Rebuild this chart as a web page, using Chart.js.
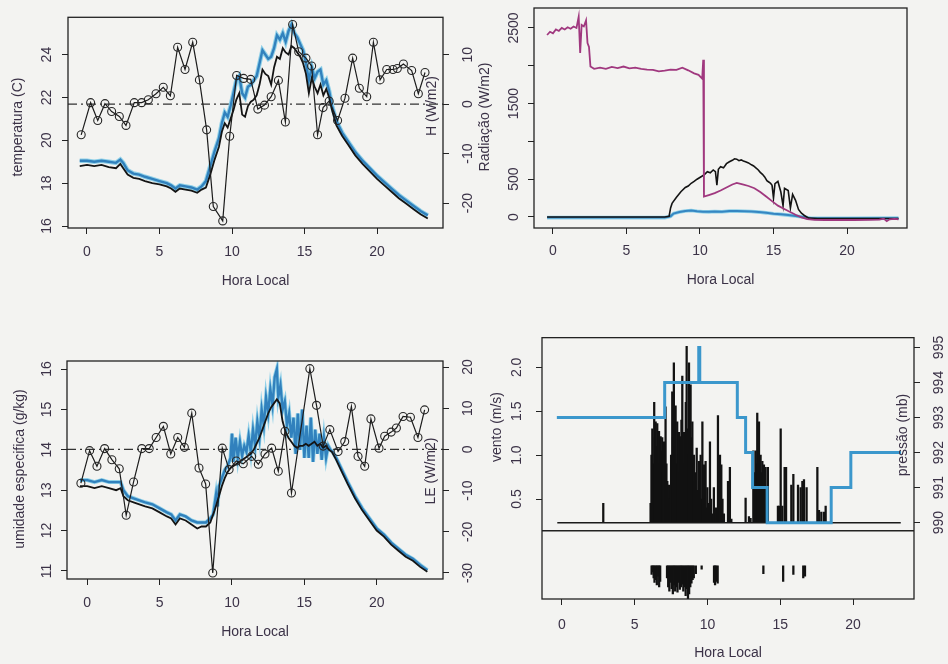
<!DOCTYPE html>
<html>
<head>
<meta charset="utf-8">
<script src="https://cdn.jsdelivr.net/npm/chart.js@4.4.1/dist/chart.umd.min.js"></script>
<style>
  html, body { margin: 0; padding: 0; background: #f3f3f1; }
  #folha { position: relative; width: 948px; height: 664px; overflow: hidden; }
  canvas { position: absolute; }
</style>
</head>
<body>
<div id="folha">
  <canvas id="temp" width="474" height="300" style="left:0;top:0"></canvas>
  <canvas id="rad" width="474" height="300" style="left:474px;top:0"></canvas>
  <canvas id="umid" width="474" height="334" style="left:0;top:330px"></canvas>
  <canvas id="vento" width="474" height="344" style="left:474px;top:320px"></canvas>
</div>
<script>
// ---- dados ----
const horasTicks = [0, 5, 10, 15, 20];

// painel 1: temperatura (C) e H (W/m2)
const tempHora = [-0.5, 0, 0.5, 1, 1.5, 2, 2.3, 2.5, 2.8, 3.2, 3.6, 4, 4.5, 5, 5.5, 5.8, 6.1, 6.4, 6.8, 7.2, 7.6, 7.9,
  8.2, 8.5, 8.8, 9.1, 9.3, 9.5, 9.7, 9.9, 10.1, 10.3, 10.5, 10.7, 10.9, 11.1, 11.3, 11.5, 11.7, 11.9,
  12.1, 12.3, 12.5, 12.7, 12.9, 13.1, 13.3, 13.5, 13.7, 13.9, 14.1, 14.3, 14.5, 14.7, 14.9, 15.1, 15.3, 15.5, 15.7, 15.9,
  16.1, 16.3, 16.5, 16.7, 16.9, 17.2, 17.6, 18, 18.5, 19, 19.5, 20, 20.5, 21, 21.5, 22, 22.5, 23, 23.5];
const tempPreto = [18.8, 18.85, 18.8, 18.85, 18.75, 18.7, 18.9, 18.7, 18.4, 18.25, 18.2, 18.1, 18.0, 17.95, 17.85, 17.75,
  17.6, 17.75, 17.7, 17.65, 17.55, 17.7, 17.8, 18.4, 19.1, 19.7, 20.4, 20.8, 20.6, 21.0, 21.4, 21.9, 22.2, 21.2, 21.1,
  21.6, 21.8, 21.9, 22.1, 22.6, 23.3, 23.1, 23.0, 22.6, 23.4, 23.9, 23.8, 24.3, 24.1, 24.0, 24.4, 24.3, 24.1, 23.9,
  23.6, 23.1, 22.2, 22.9, 22.5, 22.2, 22.6, 22.1, 22.4, 22.0, 21.4, 20.7, 20.2, 19.8, 19.3, 18.9, 18.55, 18.2, 17.9,
  17.6, 17.3, 17.05, 16.8, 16.55, 16.35];
const tempAzul = [19.05, 19.05, 19.0, 19.05, 19.0, 18.95, 19.1, 18.95, 18.6, 18.45, 18.4, 18.3, 18.2, 18.1, 18.0, 17.9,
  17.75, 17.9, 17.85, 17.8, 17.7, 17.85, 18.1, 18.8, 19.5, 20.1, 20.8, 21.3, 21.1, 21.6, 22.2, 22.8, 23.0, 22.2, 22.0,
  22.5, 22.6, 22.8, 23.0, 23.6, 24.2, 24.0, 23.8, 23.9, 24.3, 24.9, 24.7, 25.0, 24.6, 25.1, 25.4, 25.0, 24.8, 24.5,
  24.2, 23.6, 22.8, 23.4, 22.9, 23.2, 23.3, 22.6, 22.8, 22.3, 21.6, 20.9, 20.35, 19.95, 19.45, 19.05, 18.7, 18.35,
  18.05, 17.75, 17.45, 17.2, 16.95, 16.7, 16.5];
const hHora = [-0.4, 0.25, 0.74, 1.24, 1.7, 2.23, 2.69, 3.26, 3.77, 4.23, 4.76, 5.26, 5.75, 6.25, 6.76, 7.29, 7.75, 8.25,
  8.71, 9.36, 9.84, 10.32, 10.8, 11.29, 11.78, 12.24, 12.7, 13.2, 13.68, 14.18, 14.6, 15.1, 15.49, 15.9, 16.28, 16.7,
  17.28, 17.79, 18.32, 18.78, 19.29, 19.75, 20.21, 20.67, 21.1, 21.4, 21.82, 22.39, 22.85, 23.31];
const hFluxo = [-6.2, 0.3, -3.3, 0.1, -1.5, -2.5, -4.3, 0.3, 0.3, 0.9, 2.1, 3.4, 1.7, 11.5, 7.0, 12.5, 4.9, -5.2,
  -20.7, -23.6, -6.5, 5.8, 5.2, 5.0, -1.0, -0.2, 1.5, 4.8, -3.6, 16.1, 10.6, 9.3, 7.7, -6.2, -0.7, 0.6,
  -3.3, 1.2, 9.3, 3.2, 1.5, 12.5, 4.9, 7.0, 7.0, 7.2, 8.1, 6.8, 2.1, 6.4];
const tempTicks = [16, 18, 20, 22, 24];
const hTicks = [-20, -10, 0, 10];

// painel 2: radiacao (W/m2)
const radHora = [-0.4, -0.2, 0, 0.2, 0.4, 0.6, 0.8, 1.0, 1.2, 1.4, 1.6, 1.75, 1.85, 1.95, 2.1, 2.25, 2.35, 2.45, 2.55,
  2.8, 3.2, 3.6, 4.0, 4.4, 4.8, 5.2, 5.6, 6.0, 6.4, 6.8, 7.2, 7.6, 8.0, 8.4, 8.8, 9.2, 9.6, 9.9, 10.15, 10.22, 10.27,
  10.6, 11.0, 11.4, 11.8, 12.2, 12.5, 12.9, 13.3, 13.7, 14.1, 14.5, 14.9, 15.3, 15.7, 16.1, 16.5, 16.9, 17.3, 17.8,
  18.5, 19.5, 20.5, 21.5, 22.2, 22.5, 22.7, 22.9, 23.2, 23.5];
const radRosa = [2407, 2450, 2430, 2480, 2460, 2500, 2480, 2510, 2490, 2520, 2500, 2650, 2170, 2540, 2520, 2600, 2300,
  2250, 1990, 1960, 1975, 1960, 1985, 1970, 1990, 1965, 1975, 1960, 1950, 1945, 1925, 1935, 1950, 1945, 1975, 1940,
  1900, 1880, 1830, 2080, 270, 290, 315, 350, 390, 430, 450, 430, 410, 380, 330, 270, 210, 150, 110, 70, 30, -5, -28,
  -38, -40, -40, -40, -38, -35, -22, -55, -30, -26, -30];
const radPretoHora = [-0.4, 7.6, 7.9, 8.0, 8.1, 8.4, 8.7, 9.0, 9.2, 9.4, 9.6, 9.8, 10.1, 10.3, 10.5, 10.7, 10.9, 11.05,
  11.15, 11.25, 11.4, 11.6, 11.8, 12.0, 12.2, 12.35, 12.5, 12.65, 12.8, 12.95, 13.1, 13.3, 13.5, 13.65, 13.8, 13.95,
  14.1, 14.25, 14.4, 14.55, 14.7, 14.8, 14.9, 15.0, 15.1, 15.3, 15.5, 15.65, 15.75, 16.0, 16.15, 16.3, 16.5, 16.7,
  16.9, 17.1, 17.4, 18, 20, 23.5];
const radPreto = [0, 0, 10, 120, 180, 260, 335, 390, 410, 446, 470, 500, 535, 560, 600, 585, 622, 600,
  420, 630, 665, 650, 705, 730, 750, 770, 765, 745, 755, 740, 730, 715, 690, 675, 650, 625,
  590, 565, 530, 480, 460, 445, 420, 250, 440, 470, 330, 150, 380, 350, 120, 300, 220, 100,
  50, 20, -15, -20, -20, -20];
const radAzulHora = [-0.4, 7.6, 8.0, 8.2, 8.6, 9.0, 9.4, 9.8, 10.2, 10.6, 11.0, 11.5, 12.0, 12.5, 13.0, 13.5, 14.0,
  14.5, 15.0, 15.5, 16.0, 16.5, 17.0, 17.5, 18, 20, 23.5];
const radAzul = [-8, -8, 10, 45, 65, 80, 85, 75, 70, 68, 72, 70, 78, 80, 76, 72, 65, 55, 42, 35, 25, 12, 0, -15, -18,
  -18, -15];
const radTicks = [0, 500, 1000, 1500, 2000, 2500];
const radRotulos = ['0', '500', '', '1500', '', '2500'];

// painel 3: umidade especifica (g/kg) e LE (W/m2)
const umidHora = tempHora;
const umidPreto = [13.1, 13.1, 13.05, 13.1, 13.05, 13.0, 13.05, 12.85, 12.75, 12.7, 12.65, 12.6, 12.55, 12.45, 12.35,
  12.3, 12.15, 12.3, 12.25, 12.15, 12.05, 12.1, 12.1, 12.2, 12.5, 12.85, 13.1, 13.3, 13.45, 13.55, 13.6, 13.65, 13.7,
  13.75, 13.8, 13.85, 13.9, 14.0, 14.15, 14.3, 14.5, 14.7, 14.9, 15.05, 15.15, 15.25, 15.15, 14.7, 14.45, 14.3, 14.2,
  14.1, 14.05, 14.1, 14.1, 14.15, 14.1, 14.15, 14.2, 14.1, 14.15, 14.05, 14.1, 14.0, 13.95, 13.75, 13.45, 13.15, 12.8,
  12.5, 12.25, 12.0, 11.85, 11.65, 11.5, 11.35, 11.25, 11.1, 10.98];
const umidAzulHora = [-0.5, 0, 0.5, 1, 1.5, 2, 2.3, 2.5, 2.8, 3.2, 3.6, 4, 4.5, 5, 5.5, 5.8, 6.1, 6.4, 6.8, 7.2,
  7.6, 7.9, 8.2, 8.5, 8.7, 8.9, 9.0, 9.1, 9.3, 9.5, 9.7, 9.9, 10.0, 10.1, 10.25, 10.4, 10.55, 10.7, 10.85, 11.0,
  11.15, 11.3, 11.45, 11.6, 11.75, 11.9, 12.05, 12.2, 12.35, 12.5, 12.65, 12.8, 12.95, 13.1, 13.2, 13.35, 13.5, 13.65,
  13.8, 13.95, 14.1, 14.25, 14.4, 14.55, 14.7, 14.85, 15.0, 15.15, 15.3, 15.45, 15.6, 15.75, 15.9, 16.05, 16.2, 16.35,
  16.5, 16.65, 16.8, 16.95, 17.2, 17.6, 18, 18.5, 19, 19.5, 20, 20.5, 21, 21.5, 22, 22.5, 23, 23.5];
const umidAzul = [13.25, 13.25, 13.2, 13.25, 13.2, 13.2, 13.2, 13.0, 12.85, 12.8, 12.75, 12.7, 12.65, 12.55, 12.45,
  12.4, 12.25, 12.4, 12.35, 12.25, 12.2, 12.2, 12.2, 12.3, 12.4, 12.9, 12.6, 13.1, 13.3, 13.5, 13.6, 13.8, 14.4, 13.7,
  14.3, 13.8, 14.2, 13.85, 14.1, 13.95, 14.35, 13.95, 14.5, 14.1, 14.7, 14.3, 15.0, 14.6, 15.3, 14.9, 15.5, 15.1, 15.8,
  16.0, 15.3, 15.6, 15.0, 15.2, 14.6, 14.9, 14.3, 14.8, 13.9, 14.9, 14.0, 15.0, 13.8, 14.6, 13.8, 14.8, 13.7, 14.5,
  13.9, 14.4, 13.75, 14.3, 13.8, 14.1, 14.0, 13.95, 13.8, 13.5, 13.2, 12.85, 12.55, 12.3, 12.05, 11.9, 11.7, 11.55,
  11.4, 11.3, 11.15, 11.02];
const leHora = [-0.44, 0.16, 0.67, 1.2, 1.7, 2.21, 2.69, 3.2, 3.77, 4.28, 4.76, 5.26, 5.77, 6.25, 6.71, 7.22, 7.72,
  8.18, 8.67, 9.33, 9.8, 10.3, 10.78, 11.36, 11.82, 12.28, 12.74, 13.2, 13.66, 14.11, 15.38, 15.84, 16.3, 16.76,
  17.33, 17.79, 18.25, 18.71, 19.17, 19.6, 20.16, 20.55, 21.0, 21.36, 21.82, 22.33, 22.85, 23.31];
const leFluxo = [-8.2, -0.3, -4.1, 0.2, -2.5, -4.7, -16.0, -7.9, 0.2, 0.2, 2.9, 5.6, -1.1, 2.9, 0.5, 8.8, -4.5, -8.4,
  -30.0, 0.3, -4.9, -2.8, -3.5, -1.7, -3.6, -1.1, 0.3, -5.3, 4.4, -10.6, 19.6, 10.7, 0.8, 4.8, -0.5, 1.9, 10.4, -1.7,
  -4.1, 7.4, 0.3, 3.2, 4.2, 5.2, 8.0, 7.8, 2.9, 9.6];
const umidTicks = [11, 12, 13, 14, 15, 16];
const leTicks = [-30, -20, -10, 0, 10, 20];

// painel 4: vento (m/s) e pressao (mb)
const ventoHora = [2.84, 6.09, 6.15, 6.21, 6.27, 6.34, 6.39, 6.44, 6.5, 6.55, 6.61, 6.67, 6.72, 6.78, 6.84, 6.89,
  6.95, 7.01, 7.06, 7.12, 7.18, 7.24, 7.3, 7.35, 7.42, 7.5, 7.58, 7.63, 7.69, 7.75, 7.81, 7.86, 7.92, 7.98, 8.04, 8.1,
  8.15, 8.21, 8.27, 8.33, 8.38, 8.45, 8.51, 8.57, 8.63, 8.68, 8.73, 8.79, 8.84, 8.9, 8.96, 9.02, 9.07, 9.13, 9.2,
  9.26, 9.33, 9.41, 9.47, 9.53, 9.59, 9.65, 9.7, 9.76, 9.81, 9.87, 9.93, 9.99, 10.08, 10.17, 10.25, 10.33, 10.44,
  10.58, 10.72, 10.79, 10.86, 10.95, 11.03, 11.13, 11.41, 11.54, 11.64, 12.62, 12.85, 12.96, 13.15, 13.22, 13.31,
  13.37, 13.42, 13.48, 13.54, 13.6, 13.65, 13.71, 13.77, 13.82, 13.88, 13.94, 13.99, 14.15, 14.84, 14.93, 15.03,
  15.14, 15.3, 15.4, 15.76, 15.9, 16.22, 16.4, 16.52, 16.63, 16.81, 17.55, 17.66, 17.82, 18.0, 18.12];
const ventoVel = [0.45, 0.45, 1.0, 1.3, 0.9, 1.6, 1.2, 1.38, 1.1, 1.36, 1.0, 1.27, 0.9, 1.21, 1.05, 1.2, 0.8, 1.15,
  0.6, 1.55, 0.9, 0.7, 0.45, 0.66, 0.5, 1.0, 1.72, 1.2, 2.05, 1.1, 1.56, 0.9, 1.38, 1.0, 1.26, 0.8, 1.21, 1.4, 1.9,
  1.1, 1.26, 0.9, 1.6, 2.24, 1.3, 1.0, 2.05, 1.4, 1.8, 1.2, 1.38, 0.9, 1.0, 0.7, 0.8, 1.08, 0.6, 0.93, 0.7, 1.0, 0.5,
  1.38, 0.6, 0.89, 0.5, 0.93, 0.4, 0.63, 0.45, 1.15, 0.5, 0.33, 0.63, 0.4, 1.45, 0.8, 1.0, 0.89, 0.5, 0.33, 0.7, 0.86,
  0.27, 0.51, 0.3, 0.28, 1.05, 0.8, 1.05, 0.9, 1.48, 1.0, 1.38, 0.9, 1.0, 0.8, 0.93, 0.7, 0.89, 0.6, 0.86, 0.86, 0.42,
  0.42, 1.3, 0.42, 0.86, 0.86, 0.66, 0.78, 0.66, 0.63, 0.7, 0.72, 0.63, 0.86, 0.37, 0.35, 0.35, 0.42];
const ventoBase = 0.23;
const baseHoras = [-0.32, 23.28];
const divisoria = 0.139;
const dirHora = [6.16, 6.22, 6.3, 6.36, 6.45, 6.52, 6.6, 6.68, 6.75, 7.22, 7.3, 7.38, 7.46, 7.54, 7.62, 7.7, 7.78,
  7.86, 7.94, 8.02, 8.1, 8.18, 8.26, 8.34, 8.42, 8.5, 8.58, 8.66, 8.74, 8.82, 8.9, 8.98, 9.06, 9.2, 9.6, 10.45,
  10.52, 10.6, 10.7, 13.84, 15.2, 15.9, 16.58, 16.7];
const dirFim = [-0.36, -0.33, -0.4, -0.45, -0.42, -0.48, -0.38, -0.5, -0.44, -0.4, -0.5, -0.55, -0.45, -0.52, -0.58,
  -0.48, -0.55, -0.5, -0.56, -0.45, -0.53, -0.5, -0.47, -0.55, -0.5, -0.6, -0.52, -0.65, -0.58, -0.5, -0.46, -0.42,
  -0.4, -0.35, -0.3, -0.45, -0.48, -0.44, -0.46, -0.35, -0.44, -0.36, -0.4, -0.38];
const dirTopo = -0.26;
const pressaoHora = [-0.35, 7.06, 9.4, 9.47, 12.05, 12.62, 13.1, 14.1, 18.5, 19.85, 23.3];
const pressao = [993, 994, 995, 994, 993, 992, 991, 990, 991, 992, 992];
const ventoTicks = [0.5, 1.0, 1.5, 2.0];
const ventoRotulos = ['0.5', '1.0', '1.5', '2.0'];
const pressaoTicks = [990, 991, 992, 993, 994, 995];

// ---- estilo e ajudantes ----
const fonte = "'Liberation Sans', Arial, Helvetica, sans-serif";
const corTexto = '#3b3247';
const corEixo = '#222222';

const pares = (xs, ys) => xs.map((x, i) => ({ x: x, y: ys[i] }));

function eixoY(pos, min, max, valores, largura, pad, rotulos) {
  return {
    type: 'linear', position: pos, min: min, max: max,
    afterBuildTicks: s => { s.ticks = valores.map(v => ({ value: v })); },
    afterFit: s => { s.width = largura; },
    grid: { display: true, drawOnChartArea: false, tickLength: 6, color: corEixo, tickColor: corEixo, lineWidth: 1 },
    border: { display: false },
    ticks: {
      minRotation: 90, maxRotation: 90, crossAlign: 'center', padding: pad, autoSkip: false,
      color: corTexto, font: { family: fonte, size: 14 },
      callback: (v, i) => rotulos ? rotulos[i] : String(v)
    }
  };
}

function eixoX(min, max, altura, pad, padTitulo) {
  return {
    type: 'linear', min: min, max: max, offset: false,
    afterBuildTicks: s => { s.ticks = horasTicks.map(v => ({ value: v })); },
    afterFit: s => { s.height = altura; },
    grid: { display: true, drawOnChartArea: false, tickLength: 6, color: corEixo, tickColor: corEixo, offset: false },
    border: { display: false },
    ticks: { padding: pad, autoSkip: false, maxRotation: 0, color: corTexto, font: { family: fonte, size: 14 } },
    title: { display: true, text: 'Hora Local', color: corTexto, font: { family: fonte, size: 14 },
      padding: { top: 0, bottom: padTitulo } }
  };
}

function linha(xs, ys, cor, largura, eixo, extra) {
  return Object.assign({
    type: 'line', data: pares(xs, ys), borderColor: cor, borderWidth: largura,
    pointRadius: 0, yAxisID: eixo || 'y', fill: false, tension: 0
  }, extra || {});
}

function pontos(xs, ys, eixo) {
  return linha(xs, ys, '#1c1c1c', 1.2, eixo, {
    pointRadius: 4, pointStyle: 'circle', pointBorderColor: '#262626',
    pointBackgroundColor: 'rgba(0,0,0,0)', pointBorderWidth: 1.1
  });
}

const moldura = {
  id: 'moldura',
  afterDatasetsDraw(chart) {
    const { ctx, chartArea: a } = chart;
    ctx.save();
    ctx.strokeStyle = corEixo;
    ctx.lineWidth = 1.3;
    ctx.strokeRect(a.left, a.top, a.right - a.left, a.bottom - a.top);
    ctx.restore();
  }
};

function titulos(lista) {
  return {
    id: 'titulos',
    afterDraw(chart) {
      const ctx = chart.ctx;
      lista.forEach(t => {
        ctx.save();
        ctx.translate(t.x, t.y);
        ctx.rotate(-Math.PI / 2);
        ctx.font = '14px ' + fonte;
        ctx.fillStyle = corTexto;
        ctx.textAlign = 'center';
        ctx.textBaseline = 'middle';
        ctx.fillText(t.texto, 0, 0);
        ctx.restore();
      });
    }
  };
}

function opcoes(escalas, padding) {
  return {
    responsive: false, maintainAspectRatio: false, animation: false, events: [],
    layout: { padding: padding },
    plugins: { legend: { display: false }, tooltip: { enabled: false } },
    scales: escalas
  };
}

// ---- painel 1 ----
const x1 = [-1.31, 24.55];
new Chart(document.getElementById('temp'), {
  type: 'line',
  data: {
    datasets: [
      pontos(hHora, hFluxo, 'y2'),
      linha(tempHora, tempPreto, '#141414', 1.8),
      linha(tempHora, tempAzul, '#3181bd', 2.4),
      linha(tempHora, tempAzul, '#8fd0e8', 4.5),
      linha(x1, [0, 0], '#333333', 1.3, 'y2', { borderDash: [9, 4, 2, 4] })
    ]
  },
  options: opcoes({
    x: eixoX(x1[0], x1[1], 72, 10, 10.6),
    y: eixoY('left', 15.91, 25.74, tempTicks, 68, 7.2),
    y2: eixoY('right', -25.03, 17.55, hTicks, 31, 8.9)
  }, { top: 8, left: 0, right: 0, bottom: 0 }),
  plugins: [moldura, titulos([{ texto: 'temperatura (C)', x: 18, y: 127 }, { texto: 'H (W/m2)', x: 432, y: 106 }])]
});

// ---- painel 2 ----
const x2 = [-1.29, 24.08];
new Chart(document.getElementById('rad'), {
  type: 'line',
  data: {
    datasets: [
      linha(radHora, radRosa, '#a0387f', 1.8),
      linha(radPretoHora, radPreto, '#141414', 1.6),
      linha(radAzulHora, radAzul, '#3586c2', 2),
      linha(radAzulHora, radAzul, '#8fd0e8', 3.6)
    ]
  },
  options: opcoes({
    x: eixoX(x2[0], x2[1], 72, 9, 11.6),
    y: eixoY('left', -145.5, 2764, radTicks, 60, -1.6, radRotulos)
  }, { top: 8, left: 0, right: 41, bottom: 0 }),
  plugins: [moldura, titulos([{ texto: 'Radiação (W/m2)', x: 11, y: 117 }])]
});

// ---- painel 3 ----
const x3 = [-1.4, 24.58];
new Chart(document.getElementById('umid'), {
  type: 'line',
  data: {
    datasets: [
      pontos(leHora, leFluxo, 'y2'),
      linha(umidHora, umidPreto, '#141414', 1.8),
      linha(umidAzulHora, umidAzul, '#3181bd', 2.4),
      linha(umidAzulHora, umidAzul, '#8fd0e8', 4),
      linha(x3, [0, 0], '#333333', 1.3, 'y2', { borderDash: [9, 4, 2, 4] })
    ]
  },
  options: opcoes({
    x: eixoX(x3[0], x3[1], 85, 10, 23.6),
    y: eixoY('left', 10.8, 16.2, umidTicks, 67, 6.2),
    y2: eixoY('right', -31.46, 21.46, leTicks, 31, 8.9)
  }, { top: 31, left: 0, right: 0, bottom: 0 }),
  plugins: [moldura, titulos([{ texto: 'umidade especifica (g/kg)', x: 20, y: 139 }, { texto: 'LE (W/m2)', x: 431, y: 141 }])]
});

// ---- painel 4 ----
const x4 = [-1.37, 24.19];
const barrasVento = ventoHora.map((h, i) => ({ x: h, y: [ventoBase, ventoVel[i]] }))
  .concat(dirHora.map((h, i) => ({ x: h, y: [dirTopo, dirFim[i]] })));
new Chart(document.getElementById('vento'), {
  type: 'line',
  data: {
    datasets: [
      linha(pressaoHora, pressao, '#3b97cc', 3, 'y2', { stepped: 'before' }),
      linha(baseHoras, [ventoBase, ventoBase], '#1a1a1a', 1.4),
      { type: 'bar', data: barrasVento, backgroundColor: '#121212', borderWidth: 0, barThickness: 1.6, yAxisID: 'y' },
      linha(x4, [divisoria, divisoria], corEixo, 1.4)
    ]
  },
  options: opcoes({
    x: eixoX(x4[0], x4[1], 65, 11.6, 2.6),
    y: eixoY('left', -0.639, 2.338, ventoTicks, 68, 9.25, ventoRotulos),
    y2: eixoY('right', 987.82, 995.28, pressaoTicks, 34, 7.3)
  }, { top: 15, left: 0, right: 0, bottom: 0 }),
  plugins: [moldura, titulos([{ texto: 'vento (m/s)', x: 23, y: 107 }, { texto: 'pressão (mb)', x: 429, y: 115 }])]
});
</script>
</body>
</html>
